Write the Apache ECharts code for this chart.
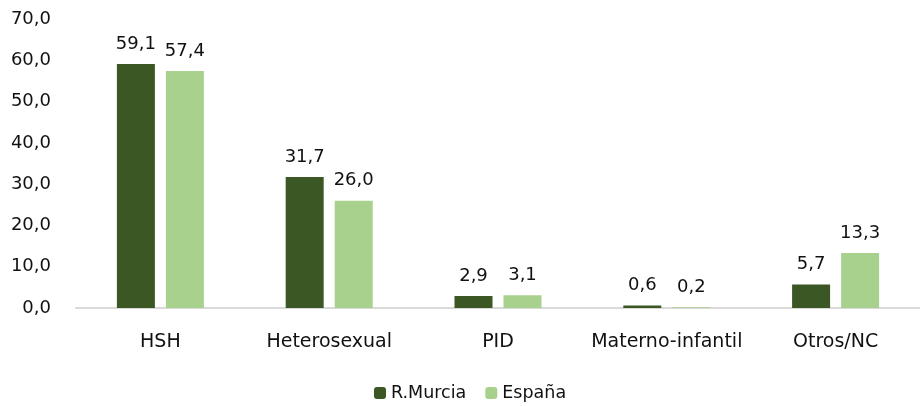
<!DOCTYPE html>
<html>
<head>
<meta charset="utf-8">
<script src="https://cdn.jsdelivr.net/npm/echarts@6/dist/echarts.min.js"></script>
<style>
  html, body { margin: 0; padding: 0; background: #fff; }
  #chart { width: 920px; height: 406px; }
</style>
</head>
<body>
<div id="chart"></div>
<script>
// categorías y valores (%)
const categories = ['HSH', 'Heterosexual', 'PID', 'Materno-infantil', 'Otros/NC'];
const murcia = [59.1, 31.7, 2.9, 0.6, 5.7];
const espana = [57.4, 26.0, 3.1, 0.2, 13.3];
const seriesNames = ['R.Murcia', 'España'];

const fmt = v => v.toFixed(1).replace('.', ',');
const font = 'DejaVu Sans';

const chart = echarts.init(document.getElementById('chart'));

const labelStyle = {
  show: true,
  position: 'top',
  distance: 11,
  color: '#111',
  fontFamily: font,
  fontSize: 18,
  formatter: p => fmt(p.value)
};

chart.setOption({
  animation: false,
  legend: {
    data: seriesNames,
    bottom: 4,
    left: 374,
    padding: 0,
    itemWidth: 12,
    itemHeight: 12,
    itemGap: 19,
    textStyle: { color: '#111', fontFamily: font, fontSize: 17.5 }
  },
  grid: {
    left: 76,
    right: -10,
    top: 19,
    bottom: 98
  },
  xAxis: {
    type: 'category',
    data: categories,
    axisLine: { lineStyle: { color: '#d9d9d9', width: 2 } },
    axisTick: { show: false },
    axisLabel: {
      interval: 0,
      color: '#111',
      fontFamily: font,
      fontSize: 19,
      margin: 25
    }
  },
  yAxis: {
    type: 'value',
    min: 0,
    max: 70,
    interval: 10,
    splitLine: { show: false },
    axisLine: { show: false },
    axisTick: { show: false },
    axisLabel: {
      color: '#111',
      fontFamily: font,
      fontSize: 18,
      margin: 25,
      formatter: v => fmt(v)
    }
  },
  series: [
    {
      name: seriesNames[0],
      type: 'bar',
      barWidth: 38,
      barGap: '29%',
      itemStyle: { color: '#3a5724' },
      label: labelStyle,
      data: murcia
    },
    {
      name: seriesNames[1],
      type: 'bar',
      barWidth: 38,
      itemStyle: { color: '#a9d18e' },
      label: labelStyle,
      data: espana
    }
  ]
});
</script>
</body>
</html>
